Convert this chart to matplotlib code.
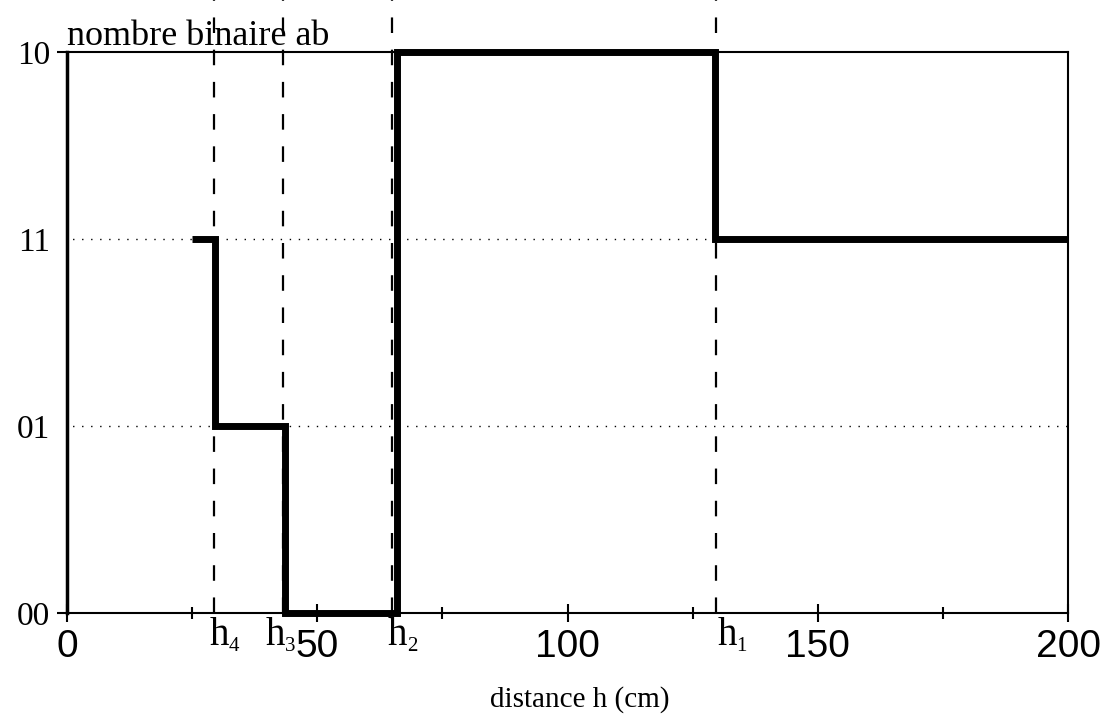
import matplotlib
matplotlib.use("Agg")
import matplotlib.pyplot as plt

# niveaux codes (ordre Gray) et transitions
level_labels = ["00", "01", "11", "10"]
step_x = [25, 29.5, 43.5, 66, 129.5, 200]
step_y = [2, 1, 0, 3, 2, 2]
h_names = ["h_1", "h_2", "h_3", "h_4"]
h_pos = [129.7, 64.9, 43.2, 29.4]
h_label_x = [129.9, 64.1, 39.6, 28.4]
x_major = [0, 50, 100, 150, 200]
x_minor = [25, 75, 125, 175]

plt.rcParams["mathtext.fontset"] = "stix"
SERIF = "Liberation Serif"
SANS = "Liberation Sans"

fig = plt.figure(figsize=(11.11, 7.25), dpi=100)
ax = fig.add_axes([67 / 1111, 112 / 725, 1001 / 1111, 561 / 725])
ax.set_xlim(0, 200)
ax.set_ylim(0, 3)

# pointilles horizontaux
for lv in (1, 2):
    ax.axhline(lv, color="black", lw=1.0, ls=(-4, (1, 5.5)), zorder=1)

# seuils h_i en tirets, depassant le cadre vers le haut
for xp in h_pos:
    ax.axvline(xp, ymin=0, ymax=1.1, color="black", lw=1.6,
               ls=(0, (7, 7.5)), clip_on=False, zorder=2)

ax.plot(step_x, step_y, drawstyle="steps-post", color="black", lw=5,
        solid_joinstyle="miter", solid_capstyle="butt", clip_on=False,
        zorder=3)

for sp in ("top", "right", "bottom"):
    ax.spines[sp].set_linewidth(1.5)
ax.spines["left"].set_linewidth(2.5)

ax.set_xticks(x_major)
ax.set_xticks(x_minor, minor=True)
ax.tick_params(axis="x", which="major", direction="inout", length=13,
               width=1.5, pad=5, labelsize=28)
ax.tick_params(axis="x", which="minor", direction="inout", length=8,
               width=1.5)
for t in ax.get_xticklabels():
    t.set_fontfamily(SANS)

ax.set_yticks(range(4))
ax.set_yticklabels(level_labels, fontfamily=SERIF, fontsize=24)
ax.tick_params(axis="y", direction="out", length=7, width=1.5, pad=5)
for i in (1, 2):
    ax.yaxis.get_major_ticks()[i].tick1line.set_visible(False)

# etiquettes h_i sous l'axe : "h" + petit indice, textes separes
for nm, xl in zip(h_names, h_label_x):
    base, sub = nm.split("_")
    ax.annotate(base, (xl, 0), xytext=(0, -3), textcoords="offset points",
                ha="left", va="top", fontsize=28, fontfamily=SERIF,
                annotation_clip=False)
    ax.annotate(sub, (xl, 0), xytext=(14, -17), textcoords="offset points",
                ha="left", va="top", fontsize=15, fontfamily=SERIF,
                annotation_clip=False)

ax.annotate("nombre binaire ab", (0, 1), xycoords="axes fraction",
            xytext=(0, 5), textcoords="offset points",
            fontfamily=SERIF, fontsize=26, ha="left", va="baseline")
fig.text(0.522, 18 / 725, "distance h (cm)", fontfamily=SERIF,
         fontsize=21, ha="center", va="baseline")

fig.savefig("out.png", dpi=100)
